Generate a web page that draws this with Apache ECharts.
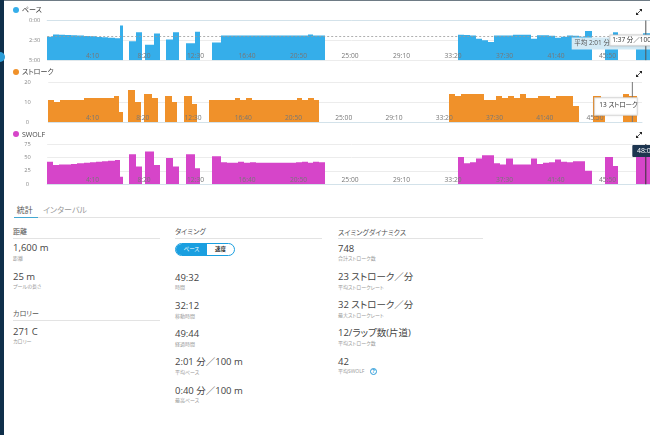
<!doctype html>
<html>
<head>
<meta charset="utf-8">
<title>プールスイム</title>
<script src="https://cdn.jsdelivr.net/npm/echarts@6/dist/echarts.min.js"></script>
<style>
    body{margin:0;width:650px;height:435px;overflow:hidden;position:relative;background:#fff;
        font-family:"Open Sans","Noto Sans CJK JP",sans-serif;color:#444;font-feature-settings:"palt"}
    .strip{position:absolute;left:0;top:0;width:4px;height:435px;background:#0f2f4a;z-index:5}
    .node{position:absolute;left:-5px;top:52px;width:10px;height:10px;border-radius:50%;background:#2b9dd8;z-index:6}
    .topline{position:absolute;left:0;top:0;width:650px;height:1px;background:#6e7b85;z-index:5}
    .chart{position:absolute;left:0;width:662px}
    .ttl{position:absolute;left:13px;font-size:7px;line-height:8px;color:#444;white-space:nowrap;z-index:4}
    .ttl i{display:inline-block;width:6px;height:6px;border-radius:50%;margin-right:3px;vertical-align:-0.5px}
    .exp{position:absolute;left:636px;z-index:4}
    .t{position:absolute;white-space:nowrap}
    .rule{position:absolute;height:1px;background:#e3e3e3}
    .toggle{position:absolute;left:175px;top:243px;width:60px;height:13px;box-sizing:border-box;
        border:1px solid #1a9fe0;border-radius:7px;overflow:hidden;font-size:5.5px;line-height:11px}
    .toggle span{position:absolute;top:0;height:11px;text-align:center}
    .help{position:absolute;left:370px;top:368px;width:7px;height:7px;box-sizing:border-box;border:1px solid #2a9ad8;
        border-radius:50%;color:#2a9ad8;font-size:5px;line-height:5px;text-align:center;font-weight:bold}
</style>
</head>
<body>
<div class="topline"></div>
<div class="strip"></div>
<div class="node"></div>

<div class="ttl" style="top:6px"><i style="background:#35aeea"></i>ペース</div>
<svg class="exp" style="top:9px" width="6" height="6"><path d="M0.8 5.2L5.2 0.8" stroke="#222" stroke-width="0.8"/><path d="M3.2 0L6 0L6 2.8Z M0 3.2L0 6L2.8 6Z" fill="#222"/></svg>
<div id="pace" class="chart" style="top:0;height:63px"></div>

<div class="ttl" style="top:68px"><i style="background:#f0912a"></i>ストローク</div>
<svg class="exp" style="top:71px" width="6" height="6"><path d="M0.8 5.2L5.2 0.8" stroke="#222" stroke-width="0.8"/><path d="M3.2 0L6 0L6 2.8Z M0 3.2L0 6L2.8 6Z" fill="#222"/></svg>
<div id="stroke" class="chart" style="top:63px;height:62px"></div>

<div class="ttl" style="top:130.7px"><i style="background:#d645c9"></i>SWOLF</div>
<svg class="exp" style="top:132px" width="6" height="6"><path d="M0.8 5.2L5.2 0.8" stroke="#222" stroke-width="0.8"/><path d="M3.2 0L6 0L6 2.8Z M0 3.2L0 6L2.8 6Z" fill="#222"/></svg>
<div id="swolf" class="chart" style="top:125px;height:64px"></div>

<div class="toggle"><span style="left:0;width:31px;background:#1a9fe0;color:#fff">ペース</span><span style="left:31px;width:27px;color:#333;font-weight:bold">速度</span></div>
<div class="help">?</div>

<script type="text/javascript">
    // 往路ごとの開始・終了(経過秒)
    var lenStart = [30, 59, 88, 117, 147, 177, 207, 237, 267, 297, 327, 357, 384,
        429, 460, 506, 548, 609, 643, 705, 747,
        832, 874, 902, 930, 958, 986, 1014, 1042, 1070, 1098, 1126, 1154, 1182, 1210, 1238, 1266, 1294, 1322, 1350,
        2023, 2053, 2082, 2112, 2141, 2171, 2200, 2230, 2259, 2289, 2318, 2348, 2377, 2407, 2436, 2466, 2495, 2525, 2554, 2584, 2613, 2643,
        2738, 2778, 2888, 2921];
    var lenEnd = [59, 88, 117, 147, 177, 207, 237, 267, 297, 327, 357, 384, 400,
        460, 492, 548, 577, 643, 669, 747, 771,
        874, 902, 930, 958, 986, 1014, 1042, 1070, 1098, 1126, 1154, 1182, 1210, 1238, 1266, 1294, 1322, 1350, 1379,
        2053, 2082, 2112, 2141, 2171, 2200, 2230, 2259, 2289, 2318, 2348, 2377, 2407, 2436, 2466, 2495, 2525, 2554, 2584, 2613, 2643, 2673,
        2778, 2800, 2921, 2960];
    // ペース(秒/100m)
    var pace = [123, 106, 107, 109, 111, 114, 117, 120, 124, 127, 131, 135, 38,
        157, 89, 184, 99, 143, 89, 172, 86,
        167, 114, 113, 113, 114, 113, 114, 113, 113, 113, 113, 113, 113, 113, 114, 113, 106, 113, 114,
        108, 110, 113, 138, 150, 162, 113, 113, 113, 108, 108, 108, 138, 111, 111, 115, 130, 122, 113, 116, 123, 80,
        165, 89, 178, 97];
    var strokes = [11, 10, 11, 11, 11, 11, 12, 12, 12, 12, 12, 13, 5,
        16, 10, 14, 12, 13, 10, 13, 9,
        11, 11, 11, 11, 12, 11, 12, 11, 11, 11, 11, 11, 11, 11, 11, 12, 11, 12, 11,
        14, 13, 14, 14, 14, 14, 11, 11, 13, 12, 13, 12, 14, 12, 12, 13, 13, 12, 13, 13, 13, 8,
        13, 10, 14, 13];
    var swolf = [42, 36, 37, 37, 38, 39, 40, 41, 42, 43, 44, 45, 14,
        56, 33, 61, 36, 49, 33, 56, 30,
        52, 41, 40, 40, 42, 40, 41, 40, 40, 40, 40, 40, 40, 40, 41, 42, 40, 42, 41,
        51, 39, 41, 48, 54, 54, 39, 37, 48, 37, 37, 37, 48, 38, 40, 41, 46, 42, 41, 43, 43, 25,
        51, 34, 61, 53];

    var xTicks = [250, 500, 750, 1000, 1250, 1500, 1750, 2000, 2250, 2500, 2750];
    var totalTime = 2984;
    var avgPace = 121;
    var cursorT = 2936;
    var cursorLabel = '48:05';

    var distStats = [['1,600 m', '距離'], ['25 m', 'プールの長さ']];
    var calStats = [['271 C', 'カロリー']];
    var timingStats = [['49:32', '時間'], ['32:12', '移動時間'], ['49:44', '経過時間'],
        ['2:01 分／100 m', '平均ペース'], ['0:40 分／100 m', '最高ペース']];
    var swimStats = [['748', '合計ストローク数'], ['23 ストローク／分', '平均ストロークレート'],
        ['32 ストローク／分', '最大ストロークレート'], ['12/ラップ数(片道)', '平均ストローク数'],
        ['42', '平均SWOLF']];

    var FONT = '"Open Sans", "Noto Sans CJK JP", sans-serif';

    function fmtTime(s) {
        var m = Math.floor(s / 60), r = Math.round(s % 60);
        return m + ':' + (r < 10 ? '0' : '') + r;
    }

    function timeAxis(margin) {
        return {
            type: 'value', min: 30, max: totalTime, z: 10,
            splitLine: { show: false },
            axisTick: { show: false },
            axisLine: { lineStyle: { color: '#d3e2ea' } },
            axisLabel: { inside: true, margin: margin, fontSize: 6.7, color: '#777', customValues: xTicks, formatter: fmtTime }
        };
    }

    // 往路ごとの棒(幅は開始〜終了時刻)
    function barSeries(vals, color, base) {
        return {
            type: 'custom',
            z: 2,
            clip: true,
            encode: { x: [0, 1], y: 2 },
            data: lenStart.map(function (s, i) { return [s, lenEnd[i], vals[i]]; }),
            renderItem: function (params, api) {
                var top = api.coord([api.value(0), api.value(2)]);
                var bot = api.coord([api.value(1), base]);
                var x0 = Math.round(top[0]), x1 = Math.round(bot[0]);
                return {
                    type: 'rect',
                    shape: { x: x0, y: top[1], width: x1 - x0, height: bot[1] - top[1] },
                    style: { fill: color }
                };
            }
        };
    }

    // ペース
    var paceChart = echarts.init(document.getElementById('pace'));
    paceChart.setOption({
        animation: false,
        textStyle: { fontFamily: FONT },
        grid: { left: 47.2, right: 6.3, top: 20.5, height: 41 },
        xAxis: timeAxis(1),
        yAxis: {
            type: 'value', inverse: true, min: 0, max: 300, interval: 150,
            axisLine: { show: false }, axisTick: { show: false },
            splitLine: { lineStyle: { color: '#ececec' } },
            axisLabel: { fontSize: 5.7, color: '#888', margin: 12.5, align: 'center', formatter: fmtTime }
        },
        series: [
            {
                type: 'line', z: 1, data: [],
                markLine: {
                    silent: true, symbol: 'none', label: { show: false },
                    lineStyle: { color: '#9a9a9a', type: [2, 2], width: 0.8 },
                    data: [{ yAxis: avgPace }]
                }
            },
            barSeries(pace, '#35aeea', 300)
        ]
    });

    // ストローク
    var strokeChart = echarts.init(document.getElementById('stroke'));
    strokeChart.setOption({
        animation: false,
        textStyle: { fontFamily: FONT },
        grid: { left: 48.3, right: 20, top: 19, height: 40 },
        xAxis: timeAxis(0.5),
        yAxis: {
            type: 'value', min: 0, max: 20, interval: 10,
            axisLine: { show: false }, axisTick: { show: false },
            splitLine: { lineStyle: { color: '#ececec' } },
            axisLabel: { fontSize: 5.7, color: '#888', margin: 20.8, align: 'center' }
        },
        series: [barSeries(strokes, '#f0912a', 0)]
    });

    // SWOLF
    var swolfChart = echarts.init(document.getElementById('swolf'));
    swolfChart.setOption({
        animation: false,
        textStyle: { fontFamily: FONT },
        grid: { left: 47.2, right: 6.3, top: 19, height: 40.3 },
        xAxis: timeAxis(0.5),
        yAxis: {
            type: 'value', min: 0, max: 75, interval: 25,
            axisLine: { show: false }, axisTick: { show: false },
            splitLine: { lineStyle: { color: '#ececec' } },
            axisLabel: { fontSize: 5.7, color: '#888', margin: 19.7, align: 'center' }
        },
        series: [barSeries(swolf, '#d645c9', 0)]
    });

    // カーソルとツールチップ
    var pi = lenStart.length - 1;
    var pTop = paceChart.convertToPixel({ gridIndex: 0 }, [cursorT, 0]);
    var pBot = paceChart.convertToPixel({ gridIndex: 0 }, [totalTime, 300]);
    var pAvg = paceChart.convertToPixel({ gridIndex: 0 }, [totalTime, avgPace]);
    paceChart.setOption({
        graphic: [
            { type: 'rect', z: 20, shape: { x: pAvg[0] - 84, y: pAvg[1] + 1, width: 90, height: 12 }, style: { fill: '#d3eaf5' } },
            { type: 'text', z: 21, x: pAvg[0] - 81.5, y: pAvg[1] + 7, style: { text: '平均 2:01 分／100 m', fill: '#555', font: '6.5px ' + FONT, verticalAlign: 'middle' } },
            { type: 'line', z: 22, shape: { x1: pTop[0], y1: pTop[1], x2: pTop[0], y2: pBot[1] }, style: { stroke: '#555', lineWidth: 1 } },
            { type: 'rect', z: 23, shape: { x: pTop[0] - 36, y: 35, width: 72, height: 10.7 }, style: { fill: '#fff', stroke: '#cfcfcf', lineWidth: 0.8, shadowBlur: 2, shadowColor: 'rgba(0,0,0,0.15)' } },
            { type: 'text', z: 24, x: pTop[0] - 33.5, y: 40.4, style: { text: fmtTime(pace[pi]) + ' 分／100 m', fill: '#333', font: '6.5px ' + FONT, verticalAlign: 'middle' } }
        ]
    });

    var sTop = strokeChart.convertToPixel({ gridIndex: 0 }, [cursorT, 20]);
    var sBot = strokeChart.convertToPixel({ gridIndex: 0 }, [cursorT, 0]);
    strokeChart.setOption({
        graphic: [
            { type: 'line', z: 22, shape: { x1: sTop[0], y1: sTop[1], x2: sTop[0], y2: sBot[1] }, style: { stroke: '#777', lineWidth: 1 } },
            { type: 'rect', z: 23, shape: { x: sTop[0] + 5 - 43, y: 34.7, width: 43, height: 17.6 }, style: { fill: '#fff', stroke: '#d5d5d5', lineWidth: 0.8, shadowBlur: 2, shadowColor: 'rgba(0,0,0,0.15)' } },
            { type: 'text', z: 24, x: sTop[0] + 5 - 38, y: 42.3, style: { text: strokes[pi] + ' ストローク', fill: '#333', font: '6.5px ' + FONT, verticalAlign: 'middle' } }
        ]
    });

    var wTop = swolfChart.convertToPixel({ gridIndex: 0 }, [cursorT, 75]);
    var wBot = swolfChart.convertToPixel({ gridIndex: 0 }, [cursorT, 0]);
    swolfChart.setOption({
        graphic: [
            { type: 'line', z: 22, shape: { x1: wTop[0], y1: wTop[1], x2: wTop[0], y2: wBot[1] }, style: { stroke: '#333', lineWidth: 1 } },
            { type: 'rect', z: 23, shape: { x: wTop[0] - 13.5, y: 20, width: 27, height: 12, r: 1 }, style: { fill: '#1d3550' } },
            { type: 'text', z: 24, x: wTop[0], y: 26, style: { text: cursorLabel, fill: '#fff', font: '7px ' + FONT, align: 'center', verticalAlign: 'middle' } }
        ]
    });

    // 統計パネル
    function put(html, x, cy, size, color) {
        var d = document.createElement('div');
        d.className = 't';
        d.style.left = x + 'px';
        d.style.top = (cy - size * 0.7) + 'px';
        d.style.fontSize = size + 'px';
        d.style.lineHeight = (size * 1.4) + 'px';
        d.style.color = color;
        d.innerHTML = html;
        document.body.appendChild(d);
        return d;
    }
    function rule(x, y, w, color) {
        var d = document.createElement('div');
        d.className = 'rule';
        d.style.left = x + 'px';
        d.style.top = y + 'px';
        d.style.width = w + 'px';
        if (color) { d.style.background = color; d.style.height = '1.5px'; }
        document.body.appendChild(d);
    }
    function section(x, w, headY, head, items, firstY) {
        put(head, x, headY, 7, '#555');
        rule(x, headY + 5.5, w);
        items.forEach(function (it, i) {
            put(it[0], x, firstY + i * 28.2, 9.5, '#444');
            put(it[1], x, firstY + i * 28.2 + 10.4, 5, '#999');
        });
    }

    put('統計', 16.7, 210, 8, '#555');
    put('インターバル', 43, 210, 8, '#999');
    rule(14, 217, 636);
    rule(14, 216.5, 24, '#43a8d3');

    section(13, 147, 232, '距離', distStats, 248);
    section(13, 147, 314, 'カロリー', calStats, 331.5);
    section(175, 147, 232, 'タイミング', timingStats, 277.5);
    section(338, 145, 232.5, 'スイミングダイナミクス', swimStats, 248.5);
</script>
</body>
</html>
